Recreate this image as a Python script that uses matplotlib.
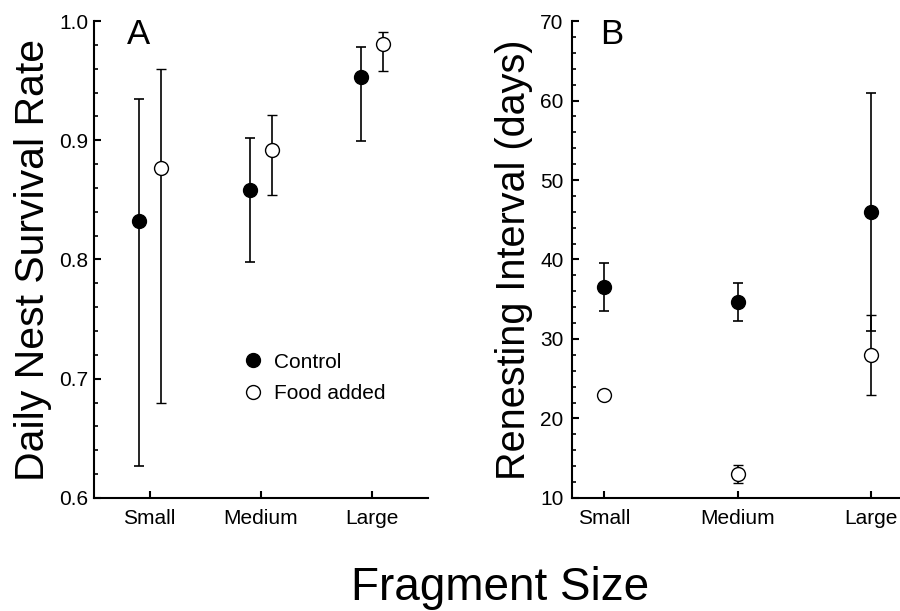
import matplotlib
matplotlib.use("Agg")
import matplotlib.pyplot as plt
import numpy as np
from matplotlib.ticker import MultipleLocator, FormatStrFormatter

plt.rcParams['font.family'] = ['Liberation Sans', 'DejaVu Sans']

categories = ["Small", "Medium", "Large"]

# Panel A: Daily nest survival rate (estimate, lower CI, upper CI)
surv_control = [0.832, 0.858, 0.953]
surv_control_lo = [0.627, 0.798, 0.899]
surv_control_hi = [0.935, 0.902, 0.978]
surv_food = [0.877, 0.892, 0.981]
surv_food_lo = [0.680, 0.854, 0.958]
surv_food_hi = [0.960, 0.921, 0.991]

# Panel B: Renesting interval (days), mean and SE
renest_control = [36.5, 34.7, 46.0]
renest_control_err = [3.0, 2.4, 15.0]
renest_food = [23.0, 13.0, 28.0]
renest_food_err = [0.0, 1.1, 5.0]

fig = plt.figure(figsize=(9, 6.11), dpi=100)
axA = fig.add_axes([0.1044, 0.185, 0.3712, 0.7806])
axB = fig.add_axes([0.6356, 0.185, 0.3644, 0.7806])

x = np.arange(1, len(categories) + 1)
ms = 10
lw_err = 1.2
cap = 3.8

def style(ax):
    for s in ["top", "right"]:
        ax.spines[s].set_visible(False)
    for s in ["left", "bottom"]:
        ax.spines[s].set_linewidth(1.5)
    ax.tick_params(axis="both", which="major", direction="in", length=5, width=1.5, labelsize=15)
    ax.tick_params(axis="x", which="major", pad=8)
    ax.tick_params(axis="y", which="major", pad=4)
    ax.tick_params(axis="y", which="minor", direction="in", length=3, width=1.2)
    ax.tick_params(axis="x", which="minor", bottom=False)
    ax.set_xticks(x)
    ax.set_xticklabels(categories)

# Panel A
off = 0.1
c = np.array(surv_control)
f = np.array(surv_food)
hc = axA.errorbar(x - off, c, yerr=[c - np.array(surv_control_lo), np.array(surv_control_hi) - c],
                  fmt="o", color="black", mfc="black", mec="black", ms=ms, elinewidth=lw_err,
                  capsize=cap, capthick=lw_err, zorder=3)
hf = axA.errorbar(x + off, f, yerr=[f - np.array(surv_food_lo), np.array(surv_food_hi) - f],
                  fmt="o", color="black", mfc="white", mec="black", mew=1, ms=ms, elinewidth=lw_err,
                  capsize=cap, capthick=lw_err, zorder=3)
axA.set_xlim(0.5, 3.5)
axA.set_ylim(0.6, 1.0)
axA.yaxis.set_major_locator(MultipleLocator(0.1))
axA.yaxis.set_minor_locator(MultipleLocator(0.02))
axA.yaxis.set_major_formatter(FormatStrFormatter("%.1f"))
style(axA)
axA.set_ylabel("Daily Nest Survival Rate", fontsize=29.5, labelpad=5)
axA.text(0.1, 1.006, "A", transform=axA.transAxes, fontsize=25, va="top", ha="left")
axA.legend(handles=[hc.lines[0], hf.lines[0]], labels=["Control", "Food added"],
           loc="center left", bbox_to_anchor=(0.415, 0.252), frameon=False,
           fontsize=15, handletextpad=0.4, handlelength=1.2, labelspacing=0.6,
           borderaxespad=0)

# Panel B
axB.errorbar(x, renest_control, yerr=renest_control_err, fmt="o", color="black", mfc="black",
             mec="black", ms=ms, elinewidth=lw_err, capsize=cap, capthick=lw_err, zorder=3)
axB.errorbar(x, renest_food, yerr=renest_food_err, fmt="o", color="black", mfc="white",
             mec="black", mew=1, ms=ms, elinewidth=lw_err, capsize=cap, capthick=lw_err, zorder=4)
axB.set_xlim(0.76, 3.217)
axB.set_ylim(10, 70)
axB.yaxis.set_major_locator(MultipleLocator(10))
axB.yaxis.set_minor_locator(MultipleLocator(2))
style(axB)
axB.tick_params(axis="y", which="major", pad=6)
axB.set_ylabel("Renesting Interval (days)", fontsize=28.5, labelpad=5)
axB.text(0.085, 1.006, "B", transform=axB.transAxes, fontsize=25, va="top", ha="left")

fig.text(0.5556, 0.018, "Fragment Size", fontsize=33, ha="center", va="baseline")

fig.savefig("out.png", dpi=100)
